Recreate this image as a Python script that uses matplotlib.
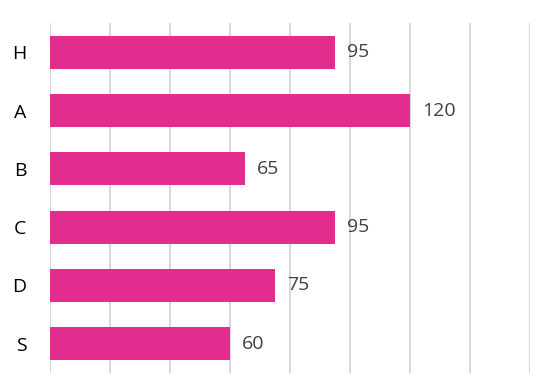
import matplotlib
matplotlib.use('Agg')
import matplotlib.pyplot as plt

categories = ['H', 'A', 'B', 'C', 'D', 'S']
values = [95, 120, 65, 95, 75, 60]
bar_color = '#E22D8F'

plt.rcParams['font.family'] = ['Open Sans', 'DejaVu Sans']

fig = plt.figure(figsize=(5.54, 3.92), dpi=100)
ax = fig.add_axes([50 / 554, 19 / 392, 480 / 554, 350 / 392])

pos = list(range(len(categories)))
ax.barh(pos, values, height=0.57, color=bar_color, zorder=3)
for p, v in zip(pos, values):
    ax.text(v + 4, p, str(v), va='center', ha='left', fontsize=14, color='#404040')

ax.set_xlim(0, 160)
ax.set_ylim(len(categories) - 0.5, -0.5)
ax.set_xticks(range(0, 161, 20))
ax.set_xticklabels([])
ax.tick_params(axis='x', length=0)
ax.set_yticks(pos)
ax.set_yticklabels(categories, fontsize=14, color='black')
ax.tick_params(axis='y', length=0, pad=17)
ax.grid(axis='x', color='#D9D9D9', linewidth=1.5, zorder=0)
for s in ax.spines.values():
    s.set_visible(False)

fig.savefig('out.png', dpi=100)
